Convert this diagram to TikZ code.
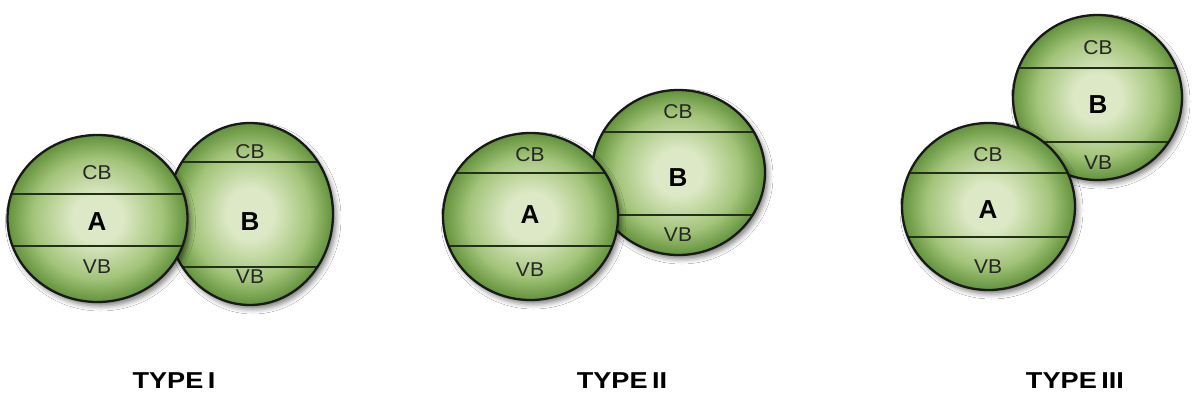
\documentclass[tikz,border=0pt]{standalone}
\usepackage{fontspec}
\setmainfont{Liberation Sans}
\usetikzlibrary{shapes.geometric,shadows.blur}
\definecolor{orbc}{HTML}{DDE9C6}
\definecolor{orbm}{HTML}{A3C47A}
\definecolor{orbe}{HTML}{62923B}
\definecolor{bandc}{HTML}{22301A}
\pgfdeclareradialshading{orbshade}{\pgfpoint{0bp}{0bp}}{color(0bp)=(orbc); color(7bp)=(orbc); color(18bp)=(orbm); color(25bp)=(orbe); color(50bp)=(orbe)}
\tikzset{
  orb/.style={ellipse, draw=black!90, line width=2.3pt, shading=orbshade, inner sep=0pt,
    blur shadow={shadow xshift=3pt, shadow yshift=-4pt, shadow blur radius=5pt, shadow opacity=50}},
  bandline/.style={draw=bandc, line width=1.6pt},
  bandtext/.style={inner sep=0pt, font=\fontsize{20}{20}\selectfont, xscale=1.05, text=black!85},
  coretext/.style={inner sep=0pt, font=\fontsize{26}{26}\selectfont\bfseries, text=black},
  titletext/.style={inner sep=0pt, font=\fontsize{23}{23}\selectfont\bfseries, xscale=1.18, text=black},
}
\newcommand\orbbands[2]{%
  \draw[bandline] ([yshift=#1]path picture bounding box.west) -- ([yshift=#1]path picture bounding box.east);
  \draw[bandline] ([yshift=#2]path picture bounding box.west) -- ([yshift=#2]path picture bounding box.east);}
\begin{document}
\begin{tikzpicture}[x=1pt,y=-1pt]
\useasboundingbox[fill=white] (0,0) rectangle (1192,399);
% ---------- TYPE I ----------
\node[orb, minimum width=166pt, minimum height=182pt, path picture={\orbbands{52pt}{-53pt}}] (IB) at (250,214) {};
\node[orb, minimum width=180pt, minimum height=167pt, path picture={\orbbands{24.5pt}{-27.5pt}}] (IA) at (97.5,218.5) {};
\node[bandtext] (IAcb) at (97,173) {CB};
\node[coretext] (IAl) at (97,222) {A};
\node[bandtext] (IAvb) at (97,267) {VB};
\node[bandtext] (IBcb) at (250,152) {CB};
\node[coretext] (IBl) at (250,222) {B};
\node[bandtext] (IBvb) at (250,277) {VB};
% ---------- TYPE II ----------
\node[orb, minimum width=173pt, minimum height=165pt, path picture={\orbbands{40.5pt}{-42.5pt}}] (IIB) at (678.5,172.5) {};
\node[orb, minimum width=175pt, minimum height=167pt, path picture={\orbbands{43.5pt}{-29.5pt}}] (IIA) at (530.5,216.5) {};
\node[bandtext] (IIAcb) at (530,155) {CB};
\node[coretext] (IIAl) at (530,215) {A};
\node[bandtext] (IIAvb) at (530,270) {VB};
\node[bandtext] (IIBcb) at (678,112) {CB};
\node[coretext] (IIBl) at (678,178) {B};
\node[bandtext] (IIBvb) at (678,235) {VB};
% ---------- TYPE III ----------
\node[orb, minimum width=169pt, minimum height=165pt, path picture={\orbbands{29.5pt}{-44.5pt}}] (IIIB) at (1097.5,97.5) {};
\node[orb, minimum width=173pt, minimum height=167pt, path picture={\orbbands{33.5pt}{-30.5pt}}] (IIIA) at (988.5,206.5) {};
\node[bandtext] (IIIAcb) at (988,155) {CB};
\node[coretext] (IIIAl) at (988,210) {A};
\node[bandtext] (IIIAvb) at (988,267) {VB};
\node[bandtext] (IIIBcb) at (1098,48) {CB};
\node[coretext] (IIIBl) at (1098,105) {B};
\node[bandtext] (IIIBvb) at (1098,163) {VB};
% ---------- titles ----------
\node[titletext] (t1) at (174,381) {TYPE\,I};
\node[titletext] (t2) at (622,381) {TYPE\,II};
\node[titletext] (t3) at (1075,381) {TYPE\,III};
\end{tikzpicture}
\end{document}
